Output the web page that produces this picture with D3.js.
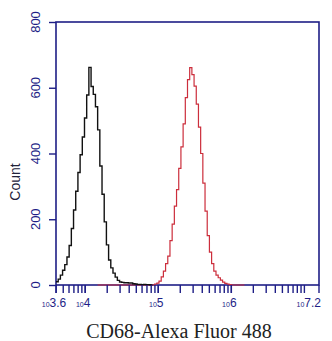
<!DOCTYPE html>
<html>
<head>
<meta charset="utf-8">
<script src="https://cdn.jsdelivr.net/npm/d3@7"></script>
<style>
  body { margin: 0; background: #fff; }
  svg { display: block; }
</style>
</head>
<body>
<div id="chart"></div>
<script>
// histogram channels, log10 of intensity, 0.03 decade bins
const binWidth = 0.03;

// isotype / unstained control (black)
const blackStart = 3.60;
const blackCounts = [10, 18, 30, 45, 62, 85, 120, 172, 228, 285, 342, 396, 450, 508, 578, 662,
  604, 580, 542, 472, 362, 276, 192, 122, 76, 52, 36, 24, 14, 9, 8, 7, 7, 6, 6, 4, 3, 2, 2, 1,
  2, 1, 1, 0];

// CD68 stained (red)
const redStart = 4.17;
const redCounts = [0, 0, 0, 0, 0, 0, 0, 0, 0, 0, 0, 0, 0, 0, 0, 0, 0, 0, 0, 0, 0, 0, 0, 0, 0, 0,
  3, 6, 12, 25, 42, 65, 88, 135, 185, 240, 290, 355, 420, 490, 570, 625, 661, 640, 605, 550, 480,
  400, 310, 225, 150, 100, 65, 42, 30, 22, 15, 9, 5, 3, 1, 0, 0, 0, 0, 0, 0];

const yTicks = [0, 200, 400, 600, 800];
const xMajor = [3.6, 4, 5, 6, 7.2];   // exponents shown as labels
const xTitle = "CD68-Alexa Fluor 488";
const yTitle = "Count";

const W = 332, H = 341;
const m = { left: 56, right: 319, top: 22, bottom: 285 };
const navy = "#1e1e86";

const svg = d3.select("#chart").append("svg")
  .attr("width", W).attr("height", H);

let x = d3.scaleLog().domain([Math.pow(10, 3.6), Math.pow(10, 7.2)]).range([m.left, m.right]);
let y = d3.scaleLinear().domain([0, 800]).range([m.bottom, m.top]);

function toPoints(start, counts) {
  let pts = counts.map((c, i) => [Math.pow(10, start + i * binWidth), c]);
  pts.push([Math.pow(10, start + counts.length * binWidth), 0]);
  return pts;
}

let line = d3.line()
  .x(d => x(d[0]))
  .y(d => y(d[1]))
  .curve(d3.curveStepAfter);

let yAxis = d3.axisLeft(y).tickValues(yTicks).tickSize(7).tickFormat("");
let gy = svg.append("g")
  .attr("transform", "translate(" + m.left + ",0)")
  .call(yAxis);
gy.select(".domain").remove();
gy.selectAll("line").attr("stroke", navy).attr("stroke-width", 1.4);

// y tick labels, rotated
svg.selectAll(".ylab")
  .data(yTicks)
  .enter().append("text")
  .attr("class", "ylab")
  .attr("transform", d => "translate(40," + y(d) + ") rotate(-90)")
  .attr("text-anchor", "middle")
  .style("font", "13px Arial, 'Liberation Sans', sans-serif")
  .style("fill", navy)
  .text(d => d);

// x tick labels: small "10" with exponent
let xl = svg.selectAll(".xlab")
  .data(xMajor)
  .enter().append("text")
  .attr("class", "xlab")
  .attr("x", d => x(Math.pow(10, d)) + (d === 7.2 ? 2 : -2))
  .attr("y", 307)
  .attr("text-anchor", d => d === 7.2 ? "end" : "middle")
  .style("font-family", "Arial, 'Liberation Sans', sans-serif")
  .style("fill", navy);
xl.append("tspan").style("font-size", "7px").text("10");
xl.append("tspan").style("font-size", "12px").text(d => d);

// plot frame
svg.append("rect")
  .attr("x", m.left).attr("y", m.top)
  .attr("width", m.right - m.left).attr("height", m.bottom - m.top)
  .attr("fill", "none")
  .attr("stroke", navy)
  .attr("stroke-width", 1.6);

// histograms
svg.append("path")
  .datum(toPoints(redStart, redCounts))
  .attr("fill", "none")
  .attr("stroke", "#cc2e3c")
  .attr("stroke-width", 1.2)
  .attr("d", line);

svg.append("path")
  .datum(toPoints(blackStart, blackCounts))
  .attr("fill", "none")
  .attr("stroke", "#111")
  .attr("stroke-width", 1.4)
  .attr("d", line);

// x ticks (log minor + major), drawn last so nothing hides them
let xTickVals = x.ticks().concat(xMajor.map(e => Math.pow(10, e)));
svg.append("g")
  .selectAll("line")
  .data(xTickVals)
  .enter().append("line")
  .attr("x1", d => x(d)).attr("x2", d => x(d))
  .attr("y1", m.bottom).attr("y2", m.bottom + 8)
  .attr("stroke", navy)
  .attr("stroke-width", 1.4);

// axis titles
svg.append("text")
  .attr("transform", "translate(20,182) rotate(-90)")
  .attr("text-anchor", "middle")
  .style("font", "14px Arial, 'Liberation Sans', sans-serif")
  .style("fill", "#22223a")
  .text(yTitle);

svg.append("text")
  .attr("x", 179).attr("y", 338)
  .attr("text-anchor", "middle")
  .style("font", "20px 'Liberation Serif', 'Times New Roman', serif")
  .style("fill", "#222")
  .text(xTitle);
</script>
</body>
</html>
